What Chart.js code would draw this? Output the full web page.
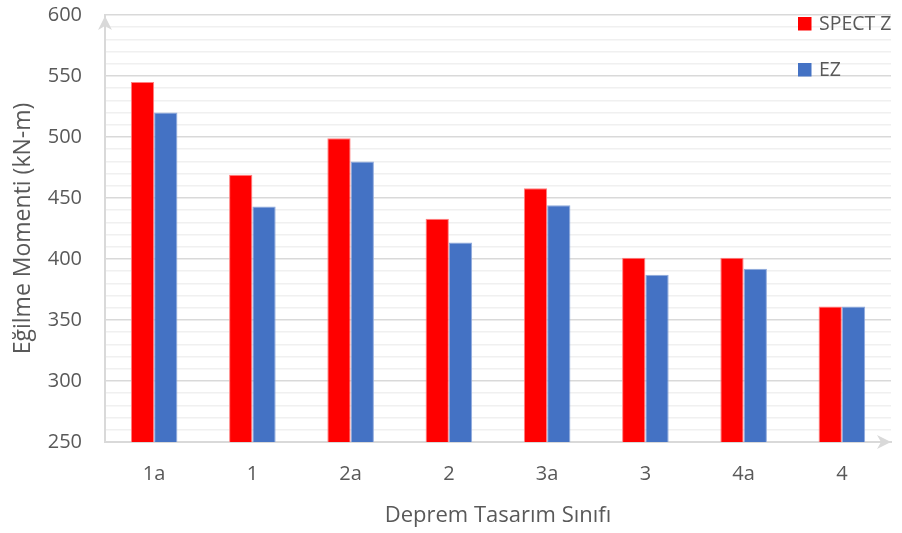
<!DOCTYPE html>
<html>
<head>
<meta charset="utf-8">
<script src="https://cdn.jsdelivr.net/npm/chart.js@4.4.1/dist/chart.umd.min.js"></script>
<style>
  html, body { margin: 0; padding: 0; background: #ffffff; }
  canvas { display: block; }
</style>
</head>
<body>
<canvas id="chart" width="902" height="533"></canvas>
<script>
// Bending moment per seismic design class
const categories = ['1a', '1', '2a', '2', '3a', '3', '4a', '4'];
const spectZ = [545, 469, 499, 433, 458, 401, 401, 361];
const ez = [520, 443, 480, 413.5, 444, 387, 392, 361];
const seriesNames = ['SPECT Z', 'EZ'];
const yMin = 250, yMax = 600, yMajorStep = 50, yMinorStep = 10;

const TEXT = '#595959';
const AXIS = '#d9d9d9';
const MINOR = '#f0f0f0';
const FONT = "'Open Sans', sans-serif";

// Axis arrowheads at the ends of the x and y axis lines
const axisArrows = {
  id: 'axisArrows',
  afterDraw(chart) {
    const { ctx, chartArea: a } = chart;
    ctx.save();
    ctx.fillStyle = AXIS;
    // y axis (pointing up)
    ctx.beginPath();
    ctx.moveTo(a.left, a.top + 1);
    ctx.lineTo(a.left - 7, a.top + 15);
    ctx.lineTo(a.left, a.top + 11);
    ctx.lineTo(a.left + 7, a.top + 15);
    ctx.closePath();
    ctx.fill();
    // x axis (pointing right)
    ctx.beginPath();
    ctx.moveTo(a.right, a.bottom);
    ctx.lineTo(a.right - 14, a.bottom - 7);
    ctx.lineTo(a.right - 10, a.bottom);
    ctx.lineTo(a.right - 14, a.bottom + 7);
    ctx.closePath();
    ctx.fill();
    ctx.restore();
  }
};

// Legend drawn inside the plot, top right, stacked vertically
const insideLegend = {
  id: 'insideLegend',
  afterDraw(chart) {
    const { ctx } = chart;
    const x0 = 798, y0 = 17, box = 13.5, gap = 46;
    ctx.save();
    ctx.font = "19.5px " + FONT;
    ctx.textBaseline = 'middle';
    ctx.textAlign = 'left';
    chart.data.datasets.forEach((ds, i) => {
      const y = y0 + i * gap;
      ctx.fillStyle = ds.backgroundColor;
      ctx.fillRect(x0, y, box, box);
      ctx.fillStyle = TEXT;
      ctx.fillText(ds.label, x0 + 21, y + box / 2 + 0.5);
    });
    ctx.restore();
  }
};

function build() {
  Chart.defaults.font.family = FONT;
  Chart.defaults.color = TEXT;

  new Chart(document.getElementById('chart'), {
    type: 'bar',
    data: {
      labels: categories,
      datasets: [
        {
          label: seriesNames[0],
          data: spectZ,
          backgroundColor: '#ff0000',
          borderColor: '#ff8080',
          borderWidth: 1,
          borderSkipped: 'bottom'
        },
        {
          label: seriesNames[1],
          data: ez,
          backgroundColor: '#4472c4',
          borderColor: '#8faadc',
          borderWidth: 1,
          borderSkipped: 'bottom'
        }
      ]
    },
    options: {
      responsive: false,
      animation: false,
      layout: { padding: { left: 0, right: 11, top: 15, bottom: 0 } },
      datasets: { bar: { categoryPercentage: 0.474, barPercentage: 1.0 } },
      plugins: {
        legend: { display: false },
        tooltip: { enabled: false }
      },
      scales: {
        x: {
          afterFit(scale) { scale.height = 91; },
          grid: {
            display: true,
            drawOnChartArea: false,
            drawTicks: true,
            tickLength: 18,
            tickColor: 'rgba(0,0,0,0)'
          },
          border: { color: AXIS, width: 2 },
          ticks: { padding: 2, font: { size: 20 }, color: TEXT },
          title: {
            display: true,
            text: 'Deprem Tasarım Sınıfı',
            font: { size: 22 },
            color: TEXT,
            padding: { top: 0, bottom: 4 }
          }
        },
        y: {
          min: yMin,
          max: yMax,
          afterFit(scale) { scale.width = 105; },
          border: { color: AXIS, width: 2 },
          grid: {
            drawTicks: true,
            tickLength: 20,
            tickColor: 'rgba(0,0,0,0)',
            color: (c) => (c.tick && c.tick.value % yMajorStep === 0) ? AXIS : MINOR,
            lineWidth: 1.5
          },
          ticks: {
            stepSize: yMinorStep,
            autoSkip: false,
            padding: 3,
            font: { size: 20 },
            color: TEXT,
            callback: (v) => (v % yMajorStep === 0 ? String(v) : '')
          },
          title: {
            display: true,
            text: 'Eğilme Momenti (kN-m)',
            font: { size: 23 },
            color: TEXT,
            padding: { top: 10, bottom: 0 }
          }
        }
      }
    },
    plugins: [axisArrows, insideLegend]
  });
}

if (document.fonts && document.fonts.load) {
  document.fonts.load("20px 'Open Sans'").then(build, build);
} else {
  build();
}
</script>
</body>
</html>
